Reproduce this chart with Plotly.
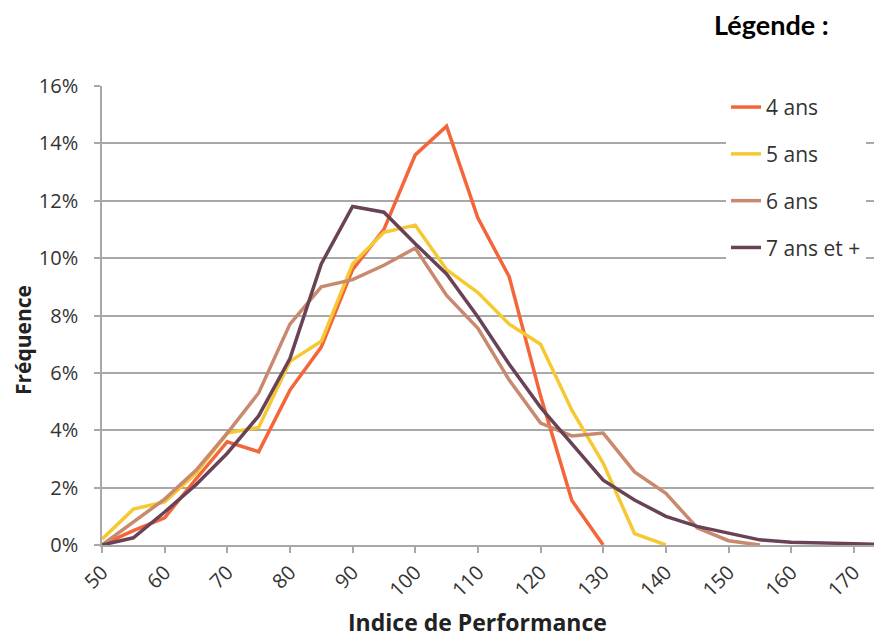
import plotly.graph_objects as go

ans4_x = list(range(50, 135, 5))
ans4 = [0.0, 0.5, 0.95, 2.3, 3.6, 3.25, 5.4, 6.9, 9.6, 11.0, 13.6, 14.6, 11.4, 9.35, 5.2, 1.55, 0.0]

ans5_x = list(range(50, 145, 5))
ans5 = [0.2, 1.25, 1.5, 2.5, 3.9, 4.1, 6.4, 7.1, 9.8, 10.9, 11.15, 9.6, 8.8, 7.7, 7.0, 4.7, 2.85, 0.4, 0.0]

ans6_x = list(range(50, 160, 5))
ans6 = [0.0, 0.8, 1.6, 2.6, 3.9, 5.3, 7.7, 9.0, 9.25, 9.75, 10.35, 8.7, 7.55, 5.75, 4.25, 3.8, 3.9, 2.55, 1.8, 0.6, 0.15, 0.0]

ans7_x = list(range(50, 180, 5))
ans7 = [0.0, 0.25, 1.15, 2.1, 3.2, 4.5, 6.5, 9.8, 11.8, 11.6, 10.5, 9.45, 7.95, 6.3, 4.8, 3.55, 2.26, 1.57, 1.0, 0.65, 0.4, 0.18, 0.1, 0.07, 0.04, 0.02]

series_names = ["4 ans", "5 ans", "6 ans", "7 ans et +"]
colors = ["#F4663A", "#F6C932", "#C8896E", "#6A4256"]

x_ticks = list(range(50, 180, 10))
y_ticks = [0, 0.02, 0.04, 0.06, 0.08, 0.10, 0.12, 0.14, 0.16]

fig = go.Figure()
for name, xs, ys, c in zip(series_names, [ans4_x, ans5_x, ans6_x, ans7_x],
                           [ans4, ans5, ans6, ans7], colors):
    fig.add_trace(go.Scatter(
        x=xs, y=[v / 100 for v in ys], mode="lines", name=name,
        legendgroup=name,
        line=dict(color=c, width=3.5),
    ))

FONT = "Open Sans, sans-serif"
tick_font = dict(family=FONT, size=20, color="#333333")
grid_c = "#A8A8A8"

# page body has an 8px margin: figure is 8px smaller and shifted
fig.update_layout(
    width=874, height=629,
    margin=dict(l=94, r=0, t=78, b=92),
    paper_bgcolor="white", plot_bgcolor="white",
    showlegend=True,
    legend=dict(
        x=0.8, y=0.998, xanchor="left", yanchor="top",
        bgcolor="white", tracegroupgap=16.5,
        font=dict(family=FONT, size=21, color="#333333"),
        itemwidth=30,
    ),
    xaxis=dict(
        range=[50, 174.5], tickmode="array", tickvals=x_ticks,
        ticktext=[str(t) for t in x_ticks],
        tickangle=-45, tickfont=tick_font,
        showgrid=False, zeroline=False,
        showline=True, linecolor=grid_c, linewidth=1.5,
        ticks="outside", ticklen=6, tickcolor=grid_c, tickwidth=1.5,
    ),
    yaxis=dict(
        range=[0, 0.16], tickmode="array", tickvals=y_ticks,
        tickformat=".0%", tickfont=tick_font,
        showgrid=True, gridcolor=grid_c, gridwidth=1.5,
        zeroline=False,
        showline=True, linecolor=grid_c, linewidth=1.5,
        ticks="outside", ticklen=6, tickcolor=grid_c, tickwidth=1.5,
        ticklabelstandoff=12,
    ),
    annotations=[
        dict(text="<b>Indice de Performance</b>", xref="paper", yref="paper",
             x=0.481, y=-0.167, xanchor="center", yanchor="middle",
             showarrow=False,
             font=dict(family=FONT, size=23, color="#222222")),
        dict(text="<b>Fréquence</b>", xref="paper", yref="paper",
             x=-0.101, y=0.447, xanchor="center", yanchor="middle",
             textangle=-90, showarrow=False,
             font=dict(family=FONT, size=21, color="#222222")),
        dict(text="<b>Légende :</b>", xref="paper", yref="paper",
             x=0.858, y=1.133, xanchor="center", yanchor="middle",
             showarrow=False,
             font=dict(family="Lato, sans-serif", size=27, color="#000000")),
    ],
)

fig.write_html("out.html")
